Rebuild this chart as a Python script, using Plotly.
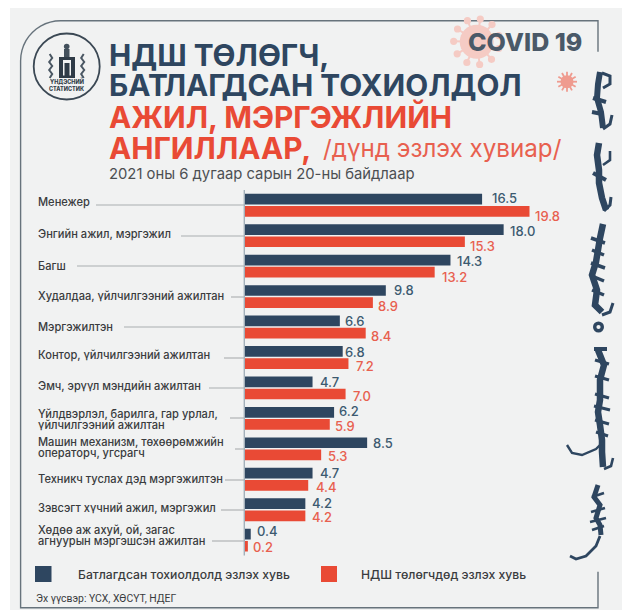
import math
import plotly.graph_objects as go

categories = [
    "Менежер", "Энгийн ажил, мэргэжил", "Багш", "Худалдаа, үйлчилгээний ажилтан",
    "Мэргэжилтэн", "Контор, үйлчилгээний ажилтан", "Эмч, эрүүл мэндийн ажилтан",
    "Үйлдвэрлэл, барилга, гар урлал,\nүйлчилгээний ажилтан",
    "Машин механизм, төхөөрөмжийн\nоператорч, угсрагч",
    "Техникч туслах дэд мэргэжилтэн", "Зэвсэгт хүчний ажил, мэргэжил",
    "Хөдөө аж ахуй, ой, загас\nагнуурын мэргэшсэн ажилтан",
]
confirmed_share = [16.5, 18.0, 14.3, 9.8, 6.6, 6.8, 4.7, 6.2, 8.5, 4.7, 4.2, 0.4]
payer_share = [19.8, 15.3, 13.2, 8.9, 8.4, 7.2, 7.0, 5.9, 5.3, 4.4, 4.2, 0.2]
series_names = ["Батлагдсан тохиолдолд эзлэх хувь", "НДШ төлөгчдөд эзлэх хувь"]

W, H = 622, 610
DARK, RED, FRAME = "#2e4660", "#e94a35", "#67737c"
FONT = "Inter"

# layout-only pixel placement of labels and leader lines
label_y = [[201.5], [234], [266], [296.5], [326.5], [355], [386], [414, 424.5], [442, 453], [479], [508], [530, 541]]
leader_y = [205, 236, 266, 297, 327, 358, 388, 418, 449, 480, 510, 541]
leader_x0 = [96, 181, 77, 231, 124, 224, 209, 230, 235, 225, 221, 212]
dark_dx = [7.5, 4.5, 4.5, 6.5, 3.5, 0.5, 5.5, 2.5, 3.5, 5.5, 4.5, 4.5]
dark_py = [198, 231, 261, 289.5, 321, 352, 382, 411, 443, 473, 503, 531]
red_dx = [3, 3.5, 5.5, 3, 3, 5.5, 5, 3, 5, 5.5, 4.5, 3.5]
red_py = [216, 246, 276.5, 306, 336, 366, 395.5, 426, 456, 487, 516.5, 547]

px = lambda x: x / W
py = lambda y: 1 - y / H

shapes, ann = [], []


def rect(x0, y0, x1, y1, fill, layer="below"):
    shapes.append(dict(type="rect", xref="paper", yref="paper", x0=px(x0), x1=px(x1), y0=py(y0), y1=py(y1),
                       fillcolor=fill, line_width=0, layer=layer))


def line(x0, y0, x1, y1, color, w=1.0):
    shapes.append(dict(type="line", xref="paper", yref="paper", x0=px(x0), x1=px(x1), y0=py(y0), y1=py(y1),
                       line=dict(color=color, width=w), layer="below"))


def circle(cx, cy, r, fill="rgba(0,0,0,0)", stroke=None, w=0):
    shapes.append(dict(type="circle", xref="paper", yref="paper", x0=px(cx - r), x1=px(cx + r), y0=py(cy + r),
                       y1=py(cy - r), fillcolor=fill, line=dict(color=stroke or fill, width=w), layer="below"))


def path(pts, color, w):
    d = "M " + " L ".join(f"{px(x):.5f},{py(y):.5f}" for x, y in pts)
    shapes.append(dict(type="path", xref="paper", yref="paper", path=d, line=dict(color=color, width=w),
                       fillcolor="rgba(0,0,0,0)", layer="below"))


def text(x, y, s, size, color, weight=400, anchor="left", font=FONT):
    ann.append(dict(x=px(x), y=py(y), xref="paper", yref="paper", text=s, showarrow=False,
                    xanchor=anchor, yanchor="middle", align="left",
                    font=dict(family=font, size=size, color=color, weight=weight)))


# panel and frame
rect(10, 8, W, H, "#f1f2f2")
path([(598, 51.7), (598, 20.7)] + [(60.6 - 40 * math.sin(t / 12 * math.pi / 2), 60.7 - 40 * math.cos(t / 12 * math.pi / 2))
                                   for t in range(13)] + [(20.6, 607.7), (598, 607.7), (598, 571.7)], FRAME, 1.4)

# virus
VIR = "#f5cbc4"
for i in range(11):
    a = i * 2 * math.pi / 11 + 0.3
    line(476.7, 41.7, 476.7 + 23 * math.cos(a), 41.7 + 23 * math.sin(a), VIR, 2)
    circle(476.7 + 23 * math.cos(a), 41.7 + 23 * math.sin(a), 3.6, VIR)
circle(476.7, 41.7, 17, VIR)
for i in range(12):
    a = i * 2 * math.pi / 12
    line(567, 81.7, 567 + 10 * math.cos(a), 81.7 + 10 * math.sin(a), "#ef9b8f", 1.8)
circle(567, 81.7, 6.5, "#ef9b8f")

# logo
circle(66.7, 66.5, 33, stroke="#3b4854", w=1.8)
rect(59, 57, 75, 60, "#2f3b47")
rect(59, 60, 63, 77, "#2f3b47")
rect(71, 60, 75, 77, "#2f3b47")
rect(64.5, 63, 69.5, 77, "#2f3b47")
rect(59, 75.5, 75, 78, "#2f3b47")
rect(64, 49, 69.5, 57, "#43505c")
circle(66.7, 46.5, 2.8, "#43505c")
for sx in (1, -1):
    path([(66.7 + sx * 17, 54), (66.7 + sx * 14.5, 58), (66.7 + sx * 17.5, 62), (66.7 + sx * 14.5, 66),
          (66.7 + sx * 17.5, 70), (66.7 + sx * 14.5, 74), (66.7 + sx * 17, 78)], "#4a5763", 2)
text(66.7, 81, "ҮНДЭСНИЙ", 5.5, "#333f4a", 800, "center")
text(66.7, 89, "СТАТИСТИК", 5.5, "#333f4a", 800, "center")

# Mongolian-script decoration (drawn as strokes)
path([(600, 72), (598, 84), (597, 98), (601, 112), (603, 128)], DARK, 6)
path([(602, 73), (610, 76), (610, 84), (603, 88)], DARK, 3)
path([(612, 115), (610, 124), (603, 129)], DARK, 3)
path([(593, 98), (606, 102)], DARK, 4)
path([(592, 112), (602, 114)], DARK, 4)
path([(599, 143), (597, 155), (599, 170), (599, 183), (602, 198), (606, 210)], DARK, 6.5)
path([(610, 151), (610, 160), (603, 165)], DARK, 2.6)
path([(611, 197), (610, 205), (604, 211)], DARK, 3)
path([(593, 173), (606, 180)], DARK, 4)
path([(603, 224), (600, 238), (596, 262), (592, 275), (597, 290), (595, 305), (602, 312)], DARK, 6.5)
for y, d in [(240, 7), (252, 6), (265, 7), (278, 6), (292, 6)]:
    path([(598 - d, y - 2), (598 + d, y + 3)], DARK, 3.5)
path([(613, 303), (610, 312), (602, 315)], DARK, 3)
circle(598.5, 327, 3.8, stroke=DARK, w=3.4)
path([(594, 349), (607, 349)], DARK, 4)
path([(598, 350), (604, 365), (600, 380), (600, 400), (598, 412), (600, 425), (602, 440), (602, 452), (603, 467)], DARK, 6.5)
for y, d in [(362, 7), (378, 7), (396, 7), (408, 8), (422, 7), (434, 6)]:
    path([(602 - d, y - 2), (602 + d, y + 2)], DARK, 3.2)
path([(567, 445), (572, 453), (582, 455), (596, 449), (603, 442)], DARK, 2.4)
path([(613, 458), (611, 466), (604, 469)], DARK, 2.6)
path([(598, 485), (594, 497), (600, 505), (596, 518), (600, 525), (601, 535)], DARK, 5)
for y, d in [(495, 6), (510, 7), (520, 8), (528, 6)]:
    path([(598 - d, y + 2), (598 + d, y - 2)], DARK, 2.6)
path([(600, 536), (596, 546), (586, 556), (576, 559), (570, 556)], DARK, 2.8)

# headings
text(107, 55, "НДШ ТӨЛӨГЧ,", 29.8, DARK, 700)
text(107, 85, "БАТЛАГДСАН ТОХИОЛДОЛ", 29.8, DARK, 700)
text(107, 117, "АЖИЛ, МЭРГЭЖЛИЙН", 29.8, RED, 700)
text(107, 148, "АНГИЛЛААР,", 29.8, RED, 700)
text(321, 148, "/дүнд эзлэх хувиар/", 24.2, "#e8604f", 400)
text(107, 174, "2021 оны 6 дугаар сарын 20-ны байдлаар", 14.8, "#4c4f52", 400)
text(466, 41.7, "COVID 19", 25, "#4a5968", 800)

# category labels + leader lines
for cat, ys, ly, lx in zip(categories, label_y, leader_y, leader_x0):
    for part, y in zip(cat.split("\n"), ys):
        text(36, y, part, 11.1, "#3a3c3e", 500)
    line(lx, ly, 244, ly, "#a9adaf", 1.1)

# value labels tied to the data axis
for vals, pys, dxs, col in ((confirmed_share, dark_py, dark_dx, "#3c5a70"), (payer_share, red_py, red_dx, "#e8604f")):
    for v, y, dx in zip(vals, pys, dxs):
        ann.append(dict(x=v, y=py(y), xref="x", yref="paper", text=f"{v:.1f}", showarrow=False, xanchor="left",
                        yanchor="middle", xshift=dx, font=dict(family=FONT, size=13, color=col, weight=500)))

# legend
rect(35, 566, 51.5, 582, DARK)
rect(321, 566, 337, 582, RED)
text(76, 574, series_names[0], 12.2, "#3a3c3e", 500)
text(359, 574, series_names[1], 12.2, "#3a3c3e", 500)
text(34, 598, "Эх үүсвэр: ҮСХ, ХӨСҮТ, НДЕГ", 10.4, "#3a3c3e", 400, font="Roboto")
rect(243.6, 190, 245, 555.4, "#a3b0ba")

fig = go.Figure()
fig.add_bar(name=series_names[0], y=categories, x=confirmed_share, orientation="h", marker=dict(color=DARK, line_width=0))
fig.add_bar(name=series_names[1], y=categories, x=payer_share, orientation="h", marker=dict(color=RED, line_width=0))
fig.update_layout(
    width=W, height=H, margin=dict(l=0, r=0, t=0, b=0), autosize=False, showlegend=False,
    paper_bgcolor="white", plot_bgcolor="rgba(0,0,0,0)", barmode="group", bargap=0.2, bargroupgap=0.12,
    shapes=shapes, annotations=ann, hovermode=False,
    xaxis=dict(domain=[245 / W, 618.6 / W], range=[0, 26], visible=False),
    yaxis=dict(domain=[py(555.4), py(190)], autorange="reversed", type="category", showticklabels=False,
               ticks="", showgrid=False, zeroline=False, showline=False),
)
fig.write_html("out.html", post_script="document.body.style.margin='0';document.body.style.overflow='hidden';",
               config=dict(displayModeBar=False))
